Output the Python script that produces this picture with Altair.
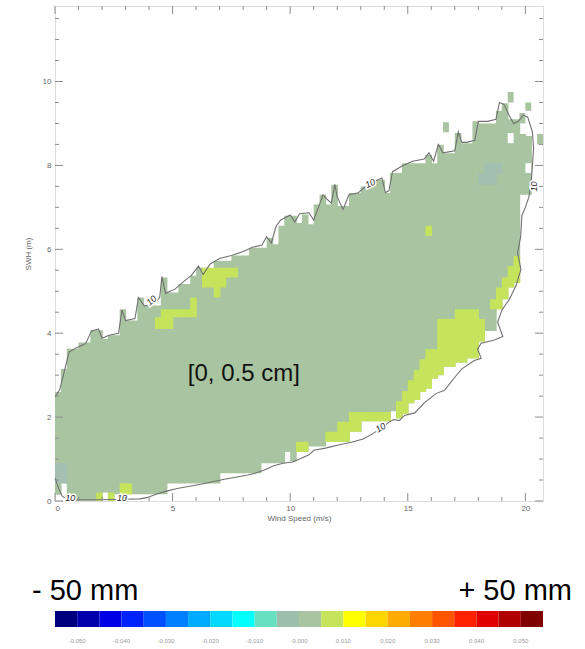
import altair as alt
import pandas as pd

# ---------------------------------------------------------------------------
# Binned field: wind speed (0.25 m/s columns) vs significant wave height
# ---------------------------------------------------------------------------
CELL_W = 0.25

# filled SWH range of every wind-speed column (column i starts at i*0.25 m/s)
col_bottom = [0.15, 0.42, 0.0, 0.0, 0.0, 0.0, 0.0, 0.0, 0.2, 0.0,
              0.16, 0.16, 0.16, 0.16, 0.16, 0.16, 0.16, 0.16, 0.16, 0.42,
              0.42, 0.42, 0.42, 0.42, 0.42, 0.42, 0.42, 0.42, 0.66, 0.66,
              0.66, 0.66, 0.66, 0.66, 0.66, 0.9, 0.9, 0.9, 0.9, 1.17,
              0.94, 1.17, 1.17, 1.3, 1.3, 1.3, 1.41, 1.41, 1.41, 1.41,
              1.65, 1.65, 1.9, 1.9, 1.9, 1.9, 1.9, 2.14, 1.97, 2.08,
              2.33, 2.41, 2.6, 2.68, 2.92, 3.0, 3.2, 3.2, 3.3, 3.3,
              3.4, 3.4, 3.8, 4.05, 4.05, 4.57, 4.81, 5.09, 5.2, 7.3,
              7.3]
col_top = [2.6, 3.15, 3.63, 3.63, 3.78, 3.78, 4.07, 4.07, 3.86, 3.95,
           3.95, 4.57, 4.3, 4.3, 4.85, 4.66, 4.66, 4.66, 5.33, 4.97,
           4.97, 5.17, 5.17, 5.37, 5.56, 5.56, 5.37, 5.73, 5.73, 5.73,
           5.85, 5.85, 5.85, 6.04, 6.04, 6.04, 6.27, 6.12, 6.56, 6.8,
           6.8, 6.63, 6.83, 6.6, 7.07, 7.3, 7.07, 7.54, 7.03, 7.03,
           7.34, 7.34, 7.5, 7.5, 7.66, 7.66, 7.34, 7.82, 7.82, 8.05,
           8.05, 8.05, 8.05, 8.25, 8.05, 8.49, 8.29, 8.29, 8.77, 8.53,
           8.53, 9.05, 9.0, 9.0, 9.0, 9.3, 9.48, 9.1, 9.1, 8.75,
           8.7]

# cells in the [0.5, 1.0 cm] class (column index, SWH low, SWH high)
hi_col = [7, 9, 11, 12,
          17, 18, 19, 20, 21, 22, 23,
          25, 26, 27, 28, 29, 30,
          41, 42, 46, 47, 48, 49, 50, 51,
          52, 53, 54, 55, 56,
          58, 59, 60, 61, 62, 63, 64,
          65, 66, 67, 68, 69, 70, 71, 72,
          74, 75, 76, 77, 78, 63]
hi_lo = [0.0, 0.0, 0.16, 0.16,
         4.1, 4.1, 4.1, 4.38, 4.38, 4.38, 4.38,
         5.09, 5.09, 4.85, 5.09, 5.33, 5.33,
         1.17, 1.17, 1.41, 1.41, 1.41, 1.41, 1.65, 1.65,
         1.9, 1.9, 1.9, 1.9, 1.9,
         1.97, 2.08, 2.33, 2.41, 2.6, 2.68, 2.92,
         3.0, 3.2, 3.2, 3.3, 3.3, 3.4, 3.4, 3.8,
         4.57, 4.57, 4.81, 5.09, 5.2, 6.32]
hi_hi = [0.2, 0.2, 0.42, 0.42,
         4.38, 4.57, 4.57, 4.57, 4.57, 4.57, 4.85,
         5.56, 5.56, 5.56, 5.56, 5.56, 5.56,
         1.41, 1.41, 1.65, 1.65, 1.89, 1.89, 2.12, 2.12,
         2.12, 2.12, 2.12, 2.12, 2.12,
         2.38, 2.62, 2.88, 3.12, 3.38, 3.62, 3.62,
         4.34, 4.34, 4.34, 4.57, 4.57, 4.57, 4.57, 4.34,
         4.81, 5.09, 5.33, 5.6, 5.84, 6.56]

# cells in the [-0.5, 0 cm] class
lo_col = [0, 1, 72, 73, 74, 73, 74, 75]
lo_lo = [0.42, 0.42, 7.54, 7.54, 7.54, 7.8, 7.8, 7.8]
lo_hi = [0.9, 0.9, 7.8, 7.8, 7.8, 8.05, 8.05, 8.05]

# isolated [0, 0.5 cm] cells outside the main body
iso_col = [66, 77, 79, 80, 82]
iso_lo = [8.79, 9.5, 9.0, 9.3, 8.5]
iso_hi = [9.03, 9.75, 9.25, 9.5, 8.75]

# empty cells inside the body
gap_col = [77, 80]
gap_lo = [8.53, 7.82]
gap_hi = [8.77, 8.05]

# "10" sample-count contour
cont_ws = [0.0, 0.15, 0.3, 0.5, 1.0, 2.0, 3.0, 3.6, 3.9, 4.3, 4.7, 5.2, 5.6, 6.2, 6.7,
           7.2, 7.8, 8.2, 8.5, 8.9, 9.3, 9.7, 10.1, 10.4, 10.8, 11.0, 11.5, 12.1, 12.6,
           13.1, 13.5, 13.9, 14.2, 14.4, 14.65, 14.86, 15.3, 15.7, 16.2, 16.56, 17.0,
           17.3, 17.83, 18.12, 17.97, 18.12, 18.68, 19.04, 18.82, 19.0, 19.32, 19.6,
           19.81, 19.67, 19.8, 19.85, 20.0, 20.15, 20.25, 20.3, 20.35, 20.3, 20.1,
           19.9, 19.7, 19.5, 19.3, 19.1, 18.9, 18.75, 18.4, 18.0, 17.85, 17.5, 17.3,
           17.15, 17.0, 16.5, 16.3, 16.1, 15.9, 15.7, 15.2, 14.8, 14.35, 14.2, 14.05,
           13.9, 13.6, 13.2, 12.9, 12.5, 12.25, 12.0, 11.9, 11.75, 11.55, 11.4, 11.2,
           11.0, 10.8, 10.4, 10.2, 10.0, 9.6, 9.4, 9.2, 9.0, 8.8, 8.4, 8.0, 7.5, 7.0,
           6.6, 6.3, 6.1, 5.8, 5.4, 5.1, 4.7, 4.55, 4.45, 4.2, 3.8, 3.55, 3.4, 3.0,
           2.85, 2.7, 2.3, 2.0, 1.85, 1.55, 1.3, 0.9, 0.6, 0.4, 0.2, 0.0]
cont_swh = [0.55, 0.3, 0.12, 0.04, 0.03, 0.03, 0.04, 0.05, 0.08, 0.16, 0.23, 0.3, 0.34,
            0.4, 0.46, 0.52, 0.58, 0.62, 0.66, 0.74, 0.84, 0.9, 0.93, 1.0, 1.1, 1.21,
            1.26, 1.34, 1.4, 1.48, 1.6, 1.75, 1.88, 1.94, 1.92, 2.04, 2.1, 2.34, 2.56,
            2.64, 2.95, 3.15, 3.35, 3.4, 3.62, 3.76, 3.84, 3.92, 4.26, 4.55, 4.81, 5.13,
            5.52, 5.92, 6.3, 6.8, 7.0, 7.25, 7.6, 8.0, 8.4, 8.8, 9.15, 9.2, 9.05, 9.0,
            9.2, 9.45, 9.5, 9.1, 9.05, 9.05, 8.6, 8.55, 8.55, 8.8, 8.35, 8.3, 8.5, 8.1,
            8.3, 8.15, 8.1, 8.0, 7.85, 7.4, 7.35, 7.7, 7.62, 7.5, 7.35, 7.3, 6.95, 7.25,
            7.55, 7.1, 7.2, 7.3, 7.0, 6.7, 6.87, 6.85, 6.65, 6.82, 6.7, 6.55, 6.15, 6.3,
            6.1, 6.05, 5.95, 5.85, 5.78, 5.65, 5.4, 5.6, 5.38, 5.2, 5.05, 4.95, 5.35,
            4.85, 4.7, 4.65, 4.85, 4.35, 4.3, 4.55, 4.0, 3.95, 3.88, 4.1, 4.05, 3.75,
            3.65, 3.55, 3.1, 2.65, 2.48]

# contour level labels
clab_ws = [0.65, 2.85, 4.1, 13.4, 20.35, 13.85]
clab_swh = [0.07, 0.08, 4.78, 7.57, 7.5, 1.75]
clab_angle = [0, 0, 318, 335, 270, 328]
clab_text = ["10", "10", "10", "10", "10", "10"]

# axis ticks
x_major = [0, 5, 10, 15, 20]
x_minor = [1, 2, 3, 4, 6, 7, 8, 9, 11, 12, 13, 14, 16, 17, 18, 19]
y_major = [0, 2, 4, 6, 8, 10]
y_minor = [0.5, 1, 1.5, 2.5, 3, 3.5, 4.5, 5, 5.5, 6.5, 7, 7.5, 8.5, 9, 9.5, 10.5, 11, 11.5]

# colour bar (bias classes, m)
cb_colors = ["#00007f", "#0000ad", "#0000e6", "#0022ff", "#0050ff", "#0080ff",
             "#00aaff", "#00d8ff", "#00ffff", "#66e0c0", "#9cbfac", "#a9c4a0",
             "#c6e35c", "#ffff00", "#ffd500", "#ffaa00", "#ff8000", "#ff5500",
             "#ff2200", "#e00000", "#b00000", "#800000"]
cb_edges = [-0.055 + 0.005 * k for k in range(len(cb_colors) + 1)]
cb_ticks = [-0.05, -0.04, -0.03, -0.02, -0.01, 0.0, 0.01, 0.02, 0.03, 0.04, 0.05]
cb_tick_text = ["-0.050", "-0.040", "-0.030", "-0.020", "-0.010", "-0.000",
                "0.010", "0.020", "0.030", "0.040", "0.050"]
cb_end_text = ["- 50 mm", "+ 50 mm"]

annotation = "[0, 0.5 cm]"

# ---------------------------------------------------------------------------
W, H = 488, 495
FILL = "#a9c4a0"
HIGH = "#c6e35c"
TEAL = "#a2bfb1"
TICK = "#8c8c8c"
FONT = "Liberation Sans"
OVERLAP = 0.03   # small overlap between neighbouring columns hides hairline seams

xs = alt.Scale(domain=[0, 20.75], nice=False, zero=False)
ys = alt.Scale(domain=[0, 11.8], nice=False, zero=False)
cbs = alt.Scale(domain=[-0.055, 0.055], nice=False, zero=False)

x_axis = alt.Axis(values=x_major, ticks=False, domain=False, grid=False, format="d",
                  labelFontSize=8, labelColor="#666", labelPadding=3, labelFont=FONT,
                  title="Wind Speed (m/s)", titleFontSize=8, titleFontWeight="normal",
                  titleColor="#666", titlePadding=2, titleFont=FONT)
y_axis = alt.Axis(values=y_major, ticks=False, domain=False, grid=False, format="d",
                  labelFontSize=8, labelColor="#666", labelPadding=4, labelFont=FONT,
                  title="SWH (m)", titleFontSize=8, titleFontWeight="normal",
                  titleColor="#666", titlePadding=10, titleFont=FONT)


def Y(field):
    # every layer shares the SWH scale and carries the same axis definition
    return alt.Y(field, scale=ys, axis=y_axis)


def cells(col, lo, hi, overlap=0.0):
    return pd.DataFrame({
        "ws0": [c * CELL_W for c in col],
        "ws1": [(c + 1) * CELL_W + overlap for c in col],
        "lo": lo, "hi": hi,
    })


def rect_layer(df, color, x_axis=None):
    return alt.Chart(df).mark_rect(color=color, strokeWidth=0).encode(
        x=alt.X("ws0:Q", scale=xs, axis=x_axis),
        x2="ws1",
        y=Y("lo:Q"),
        y2="hi",
    )


body = rect_layer(cells(list(range(len(col_top))), col_bottom, col_top, OVERLAP), FILL, x_axis)
teal = rect_layer(cells(lo_col, lo_lo, lo_hi, OVERLAP), TEAL)
high = rect_layer(cells(hi_col, hi_lo, hi_hi, OVERLAP), HIGH)
iso = rect_layer(cells(iso_col, iso_lo, iso_hi), FILL)
gaps = rect_layer(cells(gap_col, gap_lo, gap_hi), "white")

contour_df = pd.DataFrame({"ws": cont_ws, "swh": cont_swh, "k": range(len(cont_ws))})
contour = alt.Chart(contour_df).mark_line(color="#707070", strokeWidth=1.1).encode(
    x=alt.X("ws:Q", scale=xs, axis=None),
    y=Y("swh:Q"),
    order="k:Q",
)

clab_df = pd.DataFrame({"ws": clab_ws, "swh": clab_swh, "a": clab_angle, "t": clab_text})
clab_base = alt.Chart(clab_df).encode(
    x=alt.X("ws:Q", scale=xs, axis=None),
    y=Y("swh:Q"),
    angle=alt.Angle("a:Q", scale=None),
    text="t:N",
)
clab_halo = clab_base.mark_text(fontSize=9, fontStyle="italic", font=FONT, stroke="white",
                                strokeWidth=3, color="white", align="center", baseline="middle")
clab = clab_base.mark_text(fontSize=9, fontStyle="italic", font=FONT, color="#2a2a2a",
                           align="center", baseline="middle")

note = alt.Chart(pd.DataFrame({"ws": [8.03], "swh": [3.03], "t": [annotation]})).mark_text(
    fontSize=24, font=FONT, color="#111", align="center", baseline="middle"
).encode(
    x=alt.X("ws:Q", scale=xs, axis=None),
    y=Y("swh:Q"),
    text="t:N",
)


def xticks(vals, length, top):
    y0, y1 = (0, length) if top else (H, H - length)
    return alt.Chart(pd.DataFrame({"v": vals})).mark_rule(color=TICK, strokeWidth=1).encode(
        x=alt.X("v:Q", scale=xs, axis=None), y=alt.value(y0), y2=alt.value(y1))


def yticks(vals, length, right):
    x0, x1 = (W, W - length) if right else (0, length)
    return alt.Chart(pd.DataFrame({"v": vals})).mark_rule(color=TICK, strokeWidth=1).encode(
        y=Y("v:Q"), x=alt.value(x0), x2=alt.value(x1))


ticks = [xticks(x_major, 8, False), xticks(x_minor, 4, False),
         xticks(x_major, 8, True), xticks(x_minor, 4, True),
         yticks(y_major, 8, False), yticks(y_minor, 4, False),
         yticks(y_major, 8, True), yticks(y_minor, 4, True)]

# colour bar below the panel, on its own horizontal scale
cb_df = pd.DataFrame({"lo": cb_edges[:-1], "hi": cb_edges[1:], "c": cb_colors})
cbar = alt.Chart(cb_df).mark_rect().encode(
    x=alt.X("lo:Q", scale=cbs, axis=None),
    x2="hi",
    y=alt.value(605), y2=alt.value(621),
    color=alt.Color("c:N", scale=None),
)
cb_lab = alt.Chart(pd.DataFrame({"v": cb_ticks, "t": cb_tick_text})).mark_text(
    fontSize=6, font=FONT, color="#9a9a9a", align="center", baseline="middle"
).encode(x=alt.X("v:Q", scale=cbs, axis=None), y=alt.value(635), text="t:N")
cb_left = alt.Chart(pd.DataFrame({"v": [cb_edges[0]], "t": [cb_end_text[0]]})).mark_text(
    fontSize=29, font=FONT, color="#000", align="left", baseline="alphabetic", dx=-23
).encode(x=alt.X("v:Q", scale=cbs, axis=None), y=alt.value(594), text="t:N")
cb_right = alt.Chart(pd.DataFrame({"v": [cb_edges[-1]], "t": [cb_end_text[1]]})).mark_text(
    fontSize=29, font=FONT, color="#000", align="right", baseline="alphabetic", dx=29
).encode(x=alt.X("v:Q", scale=cbs, axis=None), y=alt.value(594), text="t:N")

chart = alt.layer(
    body, teal, high, iso, gaps, contour, clab_halo, clab, note, *ticks,
    cbar, cb_lab, cb_left, cb_right,
).resolve_scale(x="independent").properties(
    width=W, height=H,
    padding={"left": 55, "top": 6, "right": 42, "bottom": 148},
    autosize=alt.AutoSizeParams(type="none"),
).configure_view(stroke="#a0a0a0", strokeWidth=1).configure(background="white", font=FONT)

chart.save("out.html", embed_options={"renderer": "svg", "actions": False})
